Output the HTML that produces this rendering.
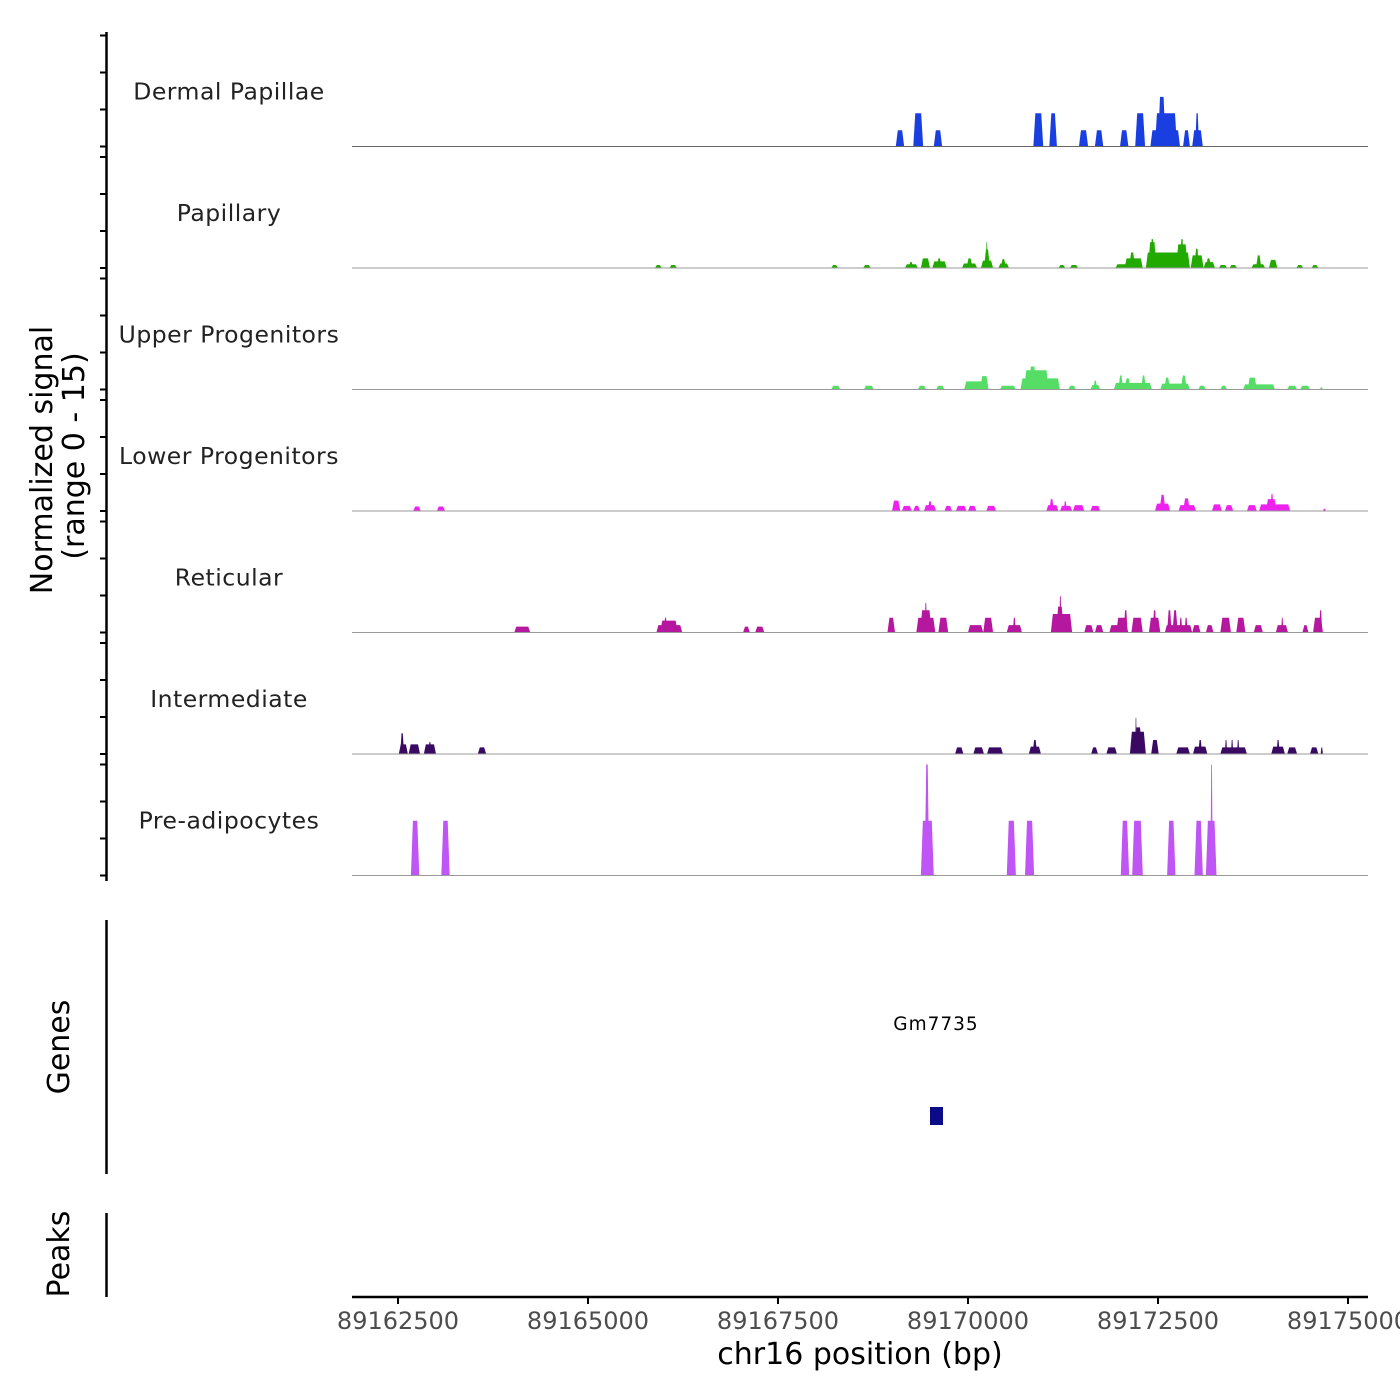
<!DOCTYPE html>
<html><head><meta charset="utf-8">
<style>
html,body{margin:0;padding:0;background:#fff;}
svg{display:block;font-family:"DejaVu Sans","Liberation Sans",sans-serif;}
</style></head>
<body>
<svg id="chart" width="1400" height="1400" viewBox="0 0 1400 1400" xmlns="http://www.w3.org/2000/svg">
<g id="tracks"></g>
<g id="yaxis"></g>
<text x="52" y="460" font-size="30" text-anchor="middle" transform="rotate(-90 52 460)">Normalized signal</text>
<text x="84" y="456" font-size="30" text-anchor="middle" transform="rotate(-90 84 456)">(range 0 - 15)</text>
<line x1="106.5" y1="920" x2="106.5" y2="1174" stroke="#000" stroke-width="2.5"/>
<text x="69" y="1047" font-size="30" text-anchor="middle" transform="rotate(-90 69 1047)">Genes</text>
<text x="936" y="1030" font-size="18.5" text-anchor="middle" letter-spacing="1">Gm7735</text>
<rect x="930" y="1107" width="13" height="18" fill="#0b0b8a"/>
<line x1="106.5" y1="1213" x2="106.5" y2="1297" stroke="#000" stroke-width="2.5"/>
<text x="69" y="1254" font-size="30" text-anchor="middle" transform="rotate(-90 69 1254)">Peaks</text>
<g id="xaxis"></g>
<text x="860" y="1364" font-size="30" text-anchor="middle">chr16 position (bp)</text>
</svg>
<script>
const OFFSET = 89162500;
const trackNames = ["Dermal Papillae","Papillary","Upper Progenitors","Lower Progenitors","Reticular","Intermediate","Pre-adipocytes"];
const trackColors = ["#1a3fe0","#22aa00","#55dd66","#ee22ee","#b5179e","#3a0a63","#c055f5"];
const xTicks = [89162500,89165000,89167500,89170000,89172500,89175000];
const yTicks = [0,5,10,15];
// segments: [startOffsetBp, endOffsetBp, value]
const dermalPapillae = [[6550,6660,2.2],[6780,6910,4.5],[7050,7160,2.2],[8360,8490,4.5],[8570,8670,4.5],[8960,9080,2.2],[9170,9280,2.2],[9500,9610,2.2],[9700,9830,4.5],[9900,10290,2.2],[9960,10250,4.5],[10000,10100,6.7],[10330,10420,2.2],[10450,10590,2.2],[10490,10540,4.5]];
const papillary = [[3380,3470,.4],[3570,3670,.4],[5700,5790,.4],[6120,6220,.4],[6670,6840,.5],[6720,6780,.8],[6880,7000,1.3],[7030,7220,.9],[7090,7150,1.3],[7420,7620,.6],[7480,7560,1.3],[7670,7830,1.0],[7710,7790,2.5],[7735,7760,3.5],[7900,8040,.6],[7930,8000,1.2],[8690,8780,.4],[8840,8950,.4],[9440,9800,.5],[9560,9800,1.3],[9620,9700,2.1],[9840,10420,2.1],[9870,9980,3.5],[9900,9950,3.9],[10240,10390,3.2],[10290,10340,3.9],[10430,10600,1.7],[10480,10540,2.6],[10600,10750,.8],[10630,10700,1.3],[10800,10910,.4],[10940,11040,.4],[11230,11410,.5],[11290,11360,1.7],[11460,11570,1.1],[11820,11910,.4],[12020,12110,.4]];
const upperProgenitors = [[5700,5820,.5],[6130,6260,.5],[6840,6950,.5],[7080,7190,.5],[7450,7770,1.1],[7660,7770,1.8],[7920,8130,.5],[8190,8710,1.5],[8240,8560,2.6],[8300,8400,3.1],[8820,8920,.5],[9110,9240,.6],[9150,9200,1.2],[9420,9920,.9],[9480,9540,1.9],[9560,9640,1.5],[9780,9840,1.9],[10030,10420,.8],[10080,10160,1.6],[10300,10380,1.9],[10530,10630,.5],[10820,10910,.5],[11120,11540,.7],[11180,11300,1.6],[11700,11830,.5],[11870,12000,.5],[12130,12170,.3]];
const lowerProgenitors = [[200,300,.6],[510,620,.6],[6500,6610,1.4],[6630,6760,.7],[6780,6870,.7],[6920,7080,.8],[6970,7030,1.3],[7190,7290,.7],[7340,7480,.7],[7500,7610,.7],[7740,7870,.7],[8530,8690,.8],[8570,8630,1.6],[8710,8870,.7],[8760,8800,1.3],[8880,9030,.8],[9110,9240,.7],[9960,10160,1.0],[10020,10100,2.2],[10270,10500,.8],[10330,10420,1.7],[10710,10840,.9],[10880,10990,.8],[11170,11300,.8],[11330,11740,.9],[11420,11560,1.6],[11480,11520,2.3],[12170,12210,.3]];
const reticular = [[1530,1740,.8],[3400,3740,1.0],[3450,3680,1.6],[3500,3540,2],[4540,4630,.8],[4700,4820,.8],[6440,6540,2],[6820,7070,2],[6870,7020,3],[6930,6960,4],[7110,7240,2],[7500,7700,1],[7700,7830,2],[8010,8210,1],[8090,8130,2],[8590,8870,2.5],[8660,8760,3.5],[8700,8730,4.9],[9030,9150,1],[9170,9280,1],[9360,9610,1],[9450,9600,2],[9550,9600,3],[9650,9800,2],[9880,10030,2],[9930,9980,3],[10090,10450,1],[10120,10180,3],[10190,10260,3],[10280,10320,2],[10350,10390,2],[10450,10560,1],[10630,10730,1],[10820,10960,2],[11030,11150,2],[11260,11380,1],[11550,11710,1],[11620,11650,2],[11900,11980,1],[12040,12170,2],[12120,12160,3]];
const intermediate = [[10,130,1.3],[30,80,2.8],[140,290,1.3],[340,500,1.3],[400,440,1.6],[1050,1160,.9],[7330,7440,.9],[7570,7710,.9],[7750,7960,.9],[8300,8460,1.0],[8350,8410,1.9],[9120,9210,.9],[9320,9460,.9],[9630,9840,3],[9690,9790,3.6],[9700,9720,4.9],[9910,10010,1.9],[10240,10420,.9],[10460,10650,1],[10530,10580,1.9],[10820,11170,.9],[10880,10910,1.9],[10960,10990,1.9],[11040,11070,1.9],[11490,11670,1],[11560,11600,1.9],[11700,11830,.9],[12000,12110,.9],[12140,12170,.9]];
const preAdipocytes = [[170,280,7.4],[570,680,7.4],[6880,7050,7.4],[6930,6990,15],[8010,8130,7.4],[8250,8370,7.4],[9510,9620,7.4],[9660,9800,7.4],[10120,10230,7.4],[10480,10590,7.4],[10630,10770,7.4],[10690,10720,15]];
const trackData = [dermalPapillae,papillary,upperProgenitors,lowerProgenitors,reticular,intermediate,preAdipocytes];

const NS = "http://www.w3.org/2000/svg";
const xScale = bp => 398 + (bp - 89162500) * (190/2500);
const baseY = i => 146.5 + i * 121.5;
const yScale = (i, v) => baseY(i) - v * 7.4;
function mk(tag, attrs, parent){const e=document.createElementNS(NS,tag);for(const k in attrs)e.setAttribute(k,attrs[k]);parent.appendChild(e);return e;}

const tracks = document.getElementById('tracks');
const yaxis = document.getElementById('yaxis');
trackData.forEach((segs, i) => {
  const g = mk('g', {}, tracks);
  
  
  const lab = mk('text', {x:229, y:baseY(i)-47, 'font-size':23.5, 'text-anchor':'middle', fill:'#222', 'letter-spacing':'0.5'}, g);
  lab.textContent = trackNames[i];
  
  
  segs.forEach(s => {
    const x0 = xScale(OFFSET + s[0]), x1 = xScale(OFFSET + s[1]);
    const y0 = baseY(i), yt = yScale(i, s[2]);
    const inset = Math.min(2, (x1-x0)/3);
    const p = mk('polygon', {points:`${x0},${y0} ${x0+inset},${yt} ${x1-inset},${yt} ${x1},${y0}`, fill:trackColors[i]}, g);
    
    
  });
  const bl = mk('line', {x1:352, x2:1368, y1:baseY(i), y2:baseY(i), stroke: i===0?'#666':'#999', 'stroke-width':1}, g);
  
  
  yTicks.forEach(v => {
    const t = mk('line', {x1:100, x2:106, y1:yScale(i,v), y2:yScale(i,v), stroke:'#000', 'stroke-width':2}, yaxis);
    
    
  });
});
const yl = mk('line', {x1:106.5, x2:106.5, y1:32, y2:881, stroke:'#000', 'stroke-width':2.5}, yaxis);



const xaxis = document.getElementById('xaxis');
const xl = mk('line', {x1:352, x2:1368, y1:1297, y2:1297, stroke:'#000', 'stroke-width':2.5}, xaxis);


xTicks.forEach(t => {
  const x = xScale(t);
  const tk = mk('line', {x1:x, x2:x, y1:1297, y2:1304, stroke:'#000', 'stroke-width':2}, xaxis);
  
  
  const tl = mk('text', {x:x, y:1329, 'font-size':24, 'text-anchor':'middle', fill:'#4d4d4d'}, xaxis);
  tl.textContent = String(t);
  
  
});
</script>
</body></html>
